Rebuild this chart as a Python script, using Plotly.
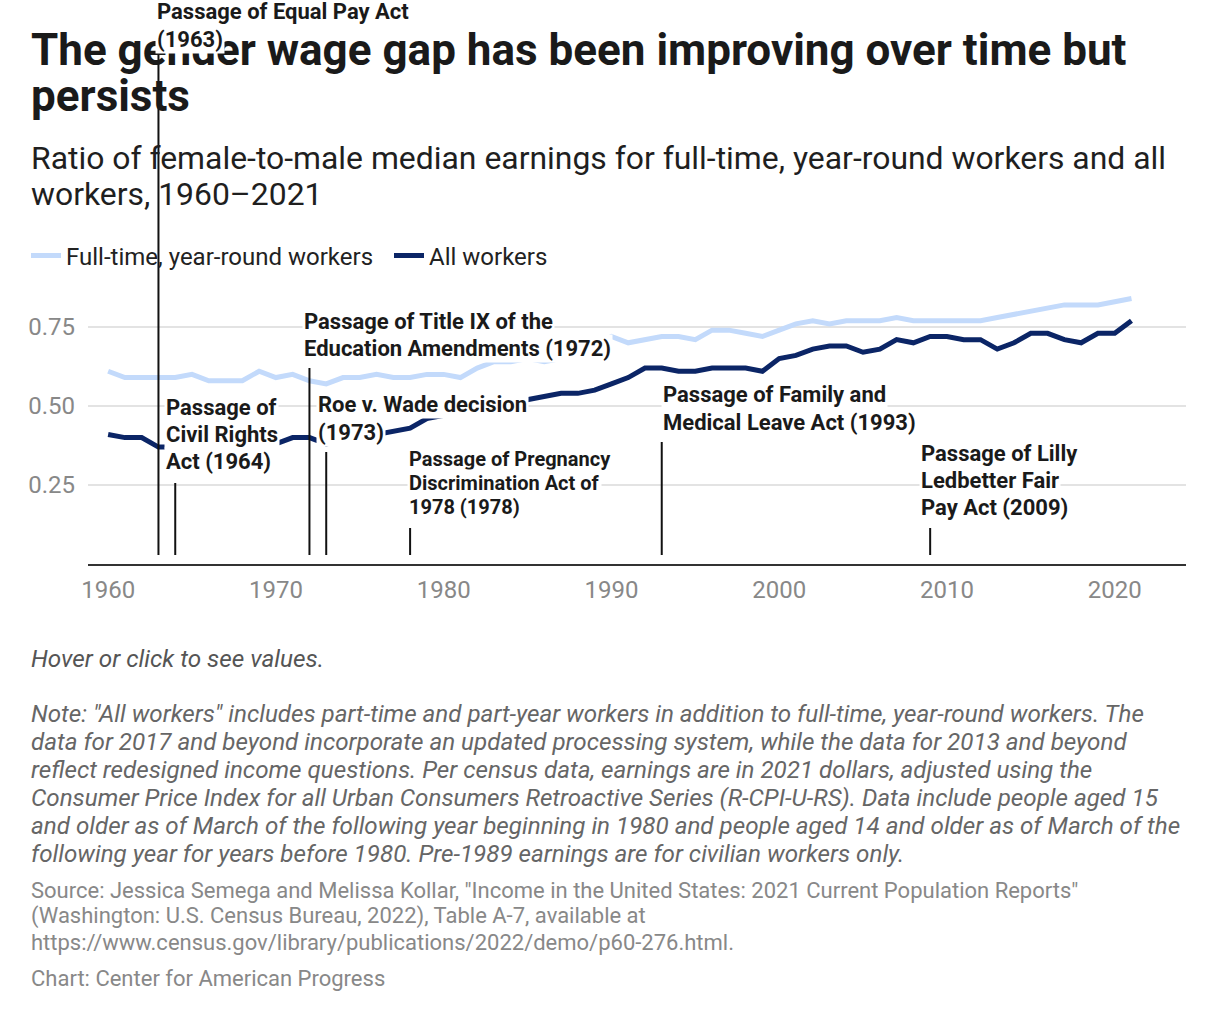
import plotly.graph_objects as go

# ---------------- data ----------------
years = list(range(1960, 2022))
full_time = [0.61, 0.59, 0.59, 0.59, 0.59, 0.60, 0.58, 0.58, 0.58, 0.61,
             0.59, 0.60, 0.58, 0.57, 0.59, 0.59, 0.60, 0.59, 0.59, 0.60,
             0.60, 0.59, 0.62, 0.64, 0.64, 0.65, 0.64, 0.65, 0.66, 0.69,
             0.72, 0.70, 0.71, 0.72, 0.72, 0.71, 0.74, 0.74, 0.73, 0.72,
             0.74, 0.76, 0.77, 0.76, 0.77, 0.77, 0.77, 0.78, 0.77, 0.77,
             0.77, 0.77, 0.77, 0.78, 0.79, 0.80, 0.81, 0.82, 0.82, 0.82,
             0.83, 0.84]
all_workers = [0.41, 0.40, 0.40, 0.37, 0.37, 0.38, 0.38, 0.38, 0.37, 0.37,
               0.38, 0.40, 0.40, 0.38, 0.39, 0.40, 0.41, 0.42, 0.43, 0.46,
               0.47, 0.48, 0.49, 0.50, 0.51, 0.52, 0.53, 0.54, 0.54, 0.55,
               0.57, 0.59, 0.62, 0.62, 0.61, 0.61, 0.62, 0.62, 0.62, 0.61,
               0.65, 0.66, 0.68, 0.69, 0.69, 0.67, 0.68, 0.71, 0.70, 0.72,
               0.72, 0.71, 0.71, 0.68, 0.70, 0.73, 0.73, 0.71, 0.70, 0.73,
               0.73, 0.77]
series_names = ["Full-time, year-round workers", "All workers"]

x_tick_vals = [1960, 1970, 1980, 1990, 2000, 2010, 2020]
y_tick_vals = [0.25, 0.50, 0.75]
y_tick_text = ["0.25", "0.50", "0.75"]

event_years = [1963, 1964, 1972, 1973, 1978, 1993, 2009]
event_labels = [
    ["Passage of Equal Pay Act", "(1963)"],
    ["Passage of", "Civil Rights", "Act (1964)"],
    ["Passage of Title IX of the", "Education Amendments (1972)"],
    ["Roe v. Wade decision", "(1973)"],
    ["Passage of Pregnancy", "Discrimination Act of", "1978 (1978)"],
    ["Passage of Family and", "Medical Leave Act (1993)"],
    ["Passage of Lilly", "Ledbetter Fair", "Pay Act (2009)"],
]

title_lines = ["The gender wage gap has been improving over time but", "persists"]
subtitle_lines = ["Ratio of female-to-male median earnings for full-time, year-round workers and all",
                  "workers, 1960\u20132021"]
hover_note = "Hover or click to see values."
note_lines = [
    'Note: "All workers" includes part-time and part-year workers in addition to full-time, year-round workers. The',
    "data for 2017 and beyond incorporate an updated processing system, while the data for 2013 and beyond",
    "reflect redesigned income questions. Per census data, earnings are in 2021 dollars, adjusted using the",
    "Consumer Price Index for all Urban Consumers Retroactive Series (R-CPI-U-RS). Data include people aged 15",
    "and older as of March of the following year beginning in 1980 and people aged 14 and older as of March of the",
    "following year for years before 1980. Pre-1989 earnings are for civilian workers only.",
]
source_lines = [
    'Source: Jessica Semega and Melissa Kollar, "Income in the United States: 2021 Current Population Reports"',
    "(Washington: U.S. Census Bureau, 2022), Table A-7, available at",
    "https://www.census.gov/library/publications/2022/demo/p60-276.html.",
]
credit = "Chart: Center for American Progress"

# ---------------- layout helpers ----------------
W, H = 1220, 1022
PL, PR, PT, PB = 88, 1186, 290, 564


def px_x(px):
    return (px - PL) / (PR - PL)


def px_y(py):
    return (PB - py) / (PB - PT)


FONT = "Roboto"
LIGHT = "#c3dafb"
DARK = "#0b2566"

fig = go.Figure()
fig.add_trace(go.Scatter(x=years, y=full_time, name=series_names[0], mode="lines",
                         line=dict(color=LIGHT, width=5),
                         hovertemplate="%{x}: %{y:.2f}<extra>" + series_names[0] + "</extra>"))
fig.add_trace(go.Scatter(x=years, y=all_workers, name=series_names[1], mode="lines",
                         line=dict(color=DARK, width=5),
                         hovertemplate="%{x}: %{y:.2f}<extra>" + series_names[1] + "</extra>"))

annotations = []
# title
for txt, cy in zip(title_lines, [50, 96]):
    annotations.append(dict(text=txt, xref="paper", yref="paper", x=px_x(29), y=px_y(cy),
                            xanchor="left", yanchor="middle", showarrow=False,
                            font=dict(family=FONT, size=44, color="#1a1a1a", weight=700)))
# subtitle
for txt, cy in zip(subtitle_lines, [158, 194]):
    annotations.append(dict(text=txt, xref="paper", yref="paper", x=px_x(29), y=px_y(cy),
                            xanchor="left", yanchor="middle", showarrow=False,
                            font=dict(family=FONT, size=31.9, color="#1f1f1f")))

# event annotations: (line top px, first line centre px, line spacing px, x shift px, font size)
event_style = [
    (54, 12, 28, -3, 22),
    (483, 407, 27, -11, 22),
    (368, 321, 27, -7, 22),
    (452, 404, 28, -10, 22),
    (528, 459, 24, -3, 20),
    (442, 394, 28, -1, 22),
    (528, 453, 27, -11, 22),
]
shapes = []
for yr, lines, (top, c0, sp, xs, fs) in zip(event_years, event_labels, event_style):
    shapes.append(dict(type="line", xref="x", yref="paper", x0=yr, x1=yr,
                       y0=px_y(555), y1=px_y(top), line=dict(color="#111111", width=2)))
    for i, ln in enumerate(lines):
        annotations.append(dict(text=ln, xref="x", yref="paper", x=yr, y=px_y(c0 + sp * i),
                                xanchor="left", yanchor="middle", xshift=xs, showarrow=False,
                                bgcolor="white", borderpad=1,
                                font=dict(family=FONT, size=fs, color="#1a1a1a", weight=700)))

# footer
annotations.append(dict(text=hover_note, xref="paper", yref="paper", x=px_x(29), y=px_y(658),
                        xanchor="left", yanchor="middle", showarrow=False,
                        font=dict(family=FONT, size=24.3, color="#555555", style="italic")))
for i, line in enumerate(note_lines):
    annotations.append(dict(text=line, xref="paper", yref="paper", x=px_x(29), y=px_y(714 + 28 * i),
                            xanchor="left", yanchor="middle", showarrow=False,
                            font=dict(family=FONT, size=24.2, color="#666666", style="italic")))
for i, line in enumerate(source_lines):
    annotations.append(dict(text=line, xref="paper", yref="paper", x=px_x(29), y=px_y(890 + 26 * i),
                            xanchor="left", yanchor="middle", showarrow=False,
                            font=dict(family=FONT, size=22, color="#888888")))
annotations.append(dict(text=credit, xref="paper", yref="paper", x=px_x(29), y=px_y(978),
                        xanchor="left", yanchor="middle", showarrow=False,
                        font=dict(family=FONT, size=22, color="#888888")))

fig.update_layout(
    width=W, height=H, autosize=False,
    margin=dict(l=PL, r=W - PR, t=PT, b=H - PB, pad=0),
    paper_bgcolor="white", plot_bgcolor="white",
    font=dict(family=FONT, color="#222222"),
    showlegend=True,
    legend=dict(orientation="h", x=px_x(26), y=px_y(256), xanchor="left", yanchor="middle",
                bgcolor="rgba(0,0,0,0)", font=dict(family=FONT, size=24, color="#222222"),
                itemwidth=30, traceorder="normal", entrywidth=318, entrywidthmode="pixels"),
    xaxis=dict(range=[1958.8, 2024.25], tickvals=x_tick_vals, showgrid=False, zeroline=False,
               showline=True, linecolor="#333333", linewidth=2, ticks="",
               tickfont=dict(family=FONT, size=24, color="#888888"), ticklabelstandoff=3,
               fixedrange=True),
    yaxis=dict(range=[0, (PB - PT) / 316], tickvals=y_tick_vals, ticktext=y_tick_text,
               showgrid=True, gridcolor="#e3e3e3", gridwidth=1.5, zeroline=False,
               showline=False, ticks="", ticklabelstandoff=12,
               tickfont=dict(family=FONT, size=24, color="#888888"), fixedrange=True),
    annotations=annotations,
    shapes=shapes,
    hovermode="closest",
)

fig.write_html("out.html")
